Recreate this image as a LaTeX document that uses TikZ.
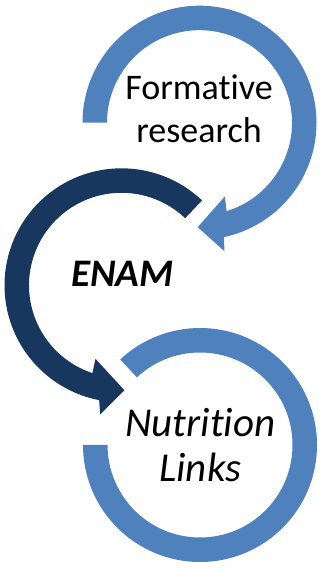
\documentclass[tikz,border=0pt]{standalone}
\usepackage{fontspec}
\setmainfont{Carlito}[Ligatures=NoCommon]
\definecolor{ringblue}{HTML}{4F81BD}
\definecolor{ringnavy}{HTML}{17375E}
\begin{document}
\begin{tikzpicture}[x=1pt,y=1pt,
  lightring/.style={fill=ringblue},
  darkring/.style={fill=ringnavy},
  label/.style={inner sep=0pt,align=center}]
\useasboundingbox (0,0) rectangle (322,569);
\coordinate (ctop) at (199.5,446.3);
\coordinate (cmid) at (121.5,283.7);
\coordinate (cbot) at (200,124);
\fill[lightring,shift={(ctop)}] (180:117) arc[start angle=180,end angle=-78,radius=117]
  -- (281:131) -- (269:104.5) -- (289:78) -- (287:92.5)
  arc[start angle=-73,end angle=180,radius=92.5] -- cycle;
\fill[darkring,shift={(cmid)}] (46.5:117) arc[start angle=46.5,end angle=259,radius=117]
  -- (260.6:131) -- (271.6:105) -- (250.5:78) -- (251.7:92.5)
  arc[start angle=251.7,end angle=46.5,radius=92.5] -- cycle;
\fill[lightring,shift={(cbot)}] (180:117) arc[start angle=180,end angle=493,radius=117]
  -- (493:92.5) arc[start angle=493,end angle=180,radius=92.5] -- cycle;
\node[label,font=\fontsize{36}{43}\selectfont] (formative) at (199,460) {Formative\\research};
\node[label,font=\fontsize{39}{44}\selectfont\bfseries\itshape] (enam) at (122.5,295.2) {ENAM};
\node[label,font=\fontsize{41}{45.7}\selectfont\itshape] (nutrition) at (200.3,124) {Nutrition\\Links};
\end{tikzpicture}
\end{document}
